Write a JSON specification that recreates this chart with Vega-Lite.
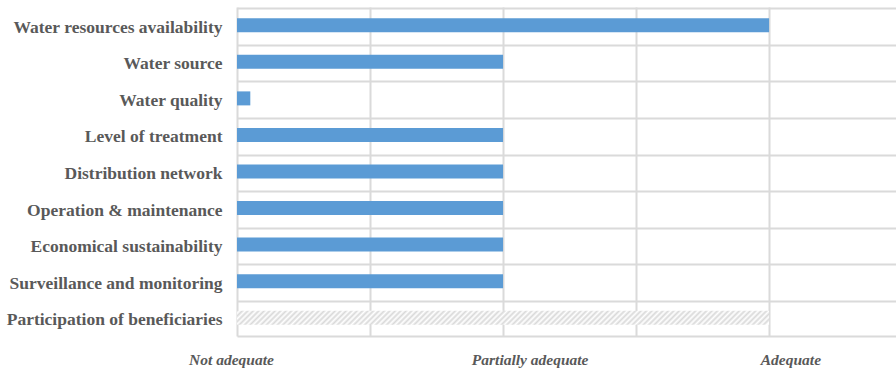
{
  "$schema": "https://vega.github.io/schema/vega-lite/v6.json",
  "width": 659,
  "height": 329,
  "autosize": "none",
  "padding": {"left": 237, "top": 7, "right": 0, "bottom": 36},
  "background": "white",
  "config": {"view": {"stroke": null}, "font": "Liberation Serif"},
  "data": {
    "values": [
      {"criterion": "Water resources availability", "level": 2},
      {"criterion": "Water source", "level": 1},
      {"criterion": "Water quality", "level": 0.05},
      {"criterion": "Level of treatment", "level": 1},
      {"criterion": "Distribution network", "level": 1},
      {"criterion": "Operation & maintenance", "level": 1},
      {"criterion": "Economical sustainability", "level": 1},
      {"criterion": "Surveillance and monitoring", "level": 1},
      {"criterion": "Participation of beneficiaries", "level": 2}
    ]
  },
  "encoding": {
    "y": {
      "field": "criterion",
      "type": "nominal",
      "sort": null,
      "title": null,
      "axis": {
        "grid": true,
        "bandPosition": 0,
        "gridColor": "#dadada",
        "gridWidth": 2,
        "domain": false,
        "ticks": false,
        "labelFont": "Liberation Serif",
        "labelFontWeight": "bold",
        "labelFontSize": 17.5,
        "labelColor": "#595959",
        "labelPadding": 15,
        "labelOffset": 2.5,
        "labelLimit": 400
      }
    }
  },
  "layer": [
    {
      "transform": [{"filter": "datum.criterion != 'Participation of beneficiaries'"}],
      "mark": {"type": "bar", "size": 14, "color": "#5b9bd5"},
      "encoding": {
        "x": {
          "field": "level",
          "type": "quantitative",
          "title": null,
          "scale": {"domain": [0, 2.477], "nice": false, "zero": true},
          "axis": {
            "orient": "top",
            "values": [0, 0.5, 1, 1.5, 2],
            "grid": true,
            "gridColor": "#dadada",
            "gridWidth": 2,
            "labels": false,
            "ticks": false,
            "domain": false
          }
        }
      }
    },
    {
      "transform": [{"filter": "datum.criterion == 'Participation of beneficiaries'"}],
      "mark": {
        "type": "bar",
        "size": 14,
        "fill": {
          "gradient": "linear",
          "x1": 0, "y1": 0, "x2": 1.0256, "y2": 0.027,
          "stops": [
            {"offset": 0, "color": "#d9d9d9"}, {"offset": 0.005, "color": "#ffffff"},
            {"offset": 0.01, "color": "#d9d9d9"}, {"offset": 0.015, "color": "#ffffff"},
            {"offset": 0.02, "color": "#d9d9d9"}, {"offset": 0.025, "color": "#ffffff"},
            {"offset": 0.03, "color": "#d9d9d9"}, {"offset": 0.035, "color": "#ffffff"},
            {"offset": 0.04, "color": "#d9d9d9"}, {"offset": 0.045, "color": "#ffffff"},
            {"offset": 0.05, "color": "#d9d9d9"}, {"offset": 0.055, "color": "#ffffff"},
            {"offset": 0.06, "color": "#d9d9d9"}, {"offset": 0.065, "color": "#ffffff"},
            {"offset": 0.07, "color": "#d9d9d9"}, {"offset": 0.075, "color": "#ffffff"},
            {"offset": 0.08, "color": "#d9d9d9"}, {"offset": 0.085, "color": "#ffffff"},
            {"offset": 0.09, "color": "#d9d9d9"}, {"offset": 0.095, "color": "#ffffff"},
            {"offset": 0.1, "color": "#d9d9d9"}, {"offset": 0.105, "color": "#ffffff"},
            {"offset": 0.11, "color": "#d9d9d9"}, {"offset": 0.115, "color": "#ffffff"},
            {"offset": 0.12, "color": "#d9d9d9"}, {"offset": 0.125, "color": "#ffffff"},
            {"offset": 0.13, "color": "#d9d9d9"}, {"offset": 0.135, "color": "#ffffff"},
            {"offset": 0.14, "color": "#d9d9d9"}, {"offset": 0.145, "color": "#ffffff"},
            {"offset": 0.15, "color": "#d9d9d9"}, {"offset": 0.155, "color": "#ffffff"},
            {"offset": 0.16, "color": "#d9d9d9"}, {"offset": 0.165, "color": "#ffffff"},
            {"offset": 0.17, "color": "#d9d9d9"}, {"offset": 0.175, "color": "#ffffff"},
            {"offset": 0.18, "color": "#d9d9d9"}, {"offset": 0.185, "color": "#ffffff"},
            {"offset": 0.19, "color": "#d9d9d9"}, {"offset": 0.195, "color": "#ffffff"},
            {"offset": 0.2, "color": "#d9d9d9"}, {"offset": 0.205, "color": "#ffffff"},
            {"offset": 0.21, "color": "#d9d9d9"}, {"offset": 0.215, "color": "#ffffff"},
            {"offset": 0.22, "color": "#d9d9d9"}, {"offset": 0.225, "color": "#ffffff"},
            {"offset": 0.23, "color": "#d9d9d9"}, {"offset": 0.235, "color": "#ffffff"},
            {"offset": 0.24, "color": "#d9d9d9"}, {"offset": 0.245, "color": "#ffffff"},
            {"offset": 0.25, "color": "#d9d9d9"}, {"offset": 0.255, "color": "#ffffff"},
            {"offset": 0.26, "color": "#d9d9d9"}, {"offset": 0.265, "color": "#ffffff"},
            {"offset": 0.27, "color": "#d9d9d9"}, {"offset": 0.275, "color": "#ffffff"},
            {"offset": 0.28, "color": "#d9d9d9"}, {"offset": 0.285, "color": "#ffffff"},
            {"offset": 0.29, "color": "#d9d9d9"}, {"offset": 0.295, "color": "#ffffff"},
            {"offset": 0.3, "color": "#d9d9d9"}, {"offset": 0.305, "color": "#ffffff"},
            {"offset": 0.31, "color": "#d9d9d9"}, {"offset": 0.315, "color": "#ffffff"},
            {"offset": 0.32, "color": "#d9d9d9"}, {"offset": 0.325, "color": "#ffffff"},
            {"offset": 0.33, "color": "#d9d9d9"}, {"offset": 0.335, "color": "#ffffff"},
            {"offset": 0.34, "color": "#d9d9d9"}, {"offset": 0.345, "color": "#ffffff"},
            {"offset": 0.35, "color": "#d9d9d9"}, {"offset": 0.355, "color": "#ffffff"},
            {"offset": 0.36, "color": "#d9d9d9"}, {"offset": 0.365, "color": "#ffffff"},
            {"offset": 0.37, "color": "#d9d9d9"}, {"offset": 0.375, "color": "#ffffff"},
            {"offset": 0.38, "color": "#d9d9d9"}, {"offset": 0.385, "color": "#ffffff"},
            {"offset": 0.39, "color": "#d9d9d9"}, {"offset": 0.395, "color": "#ffffff"},
            {"offset": 0.4, "color": "#d9d9d9"}, {"offset": 0.405, "color": "#ffffff"},
            {"offset": 0.41, "color": "#d9d9d9"}, {"offset": 0.415, "color": "#ffffff"},
            {"offset": 0.42, "color": "#d9d9d9"}, {"offset": 0.425, "color": "#ffffff"},
            {"offset": 0.43, "color": "#d9d9d9"}, {"offset": 0.435, "color": "#ffffff"},
            {"offset": 0.44, "color": "#d9d9d9"}, {"offset": 0.445, "color": "#ffffff"},
            {"offset": 0.45, "color": "#d9d9d9"}, {"offset": 0.455, "color": "#ffffff"},
            {"offset": 0.46, "color": "#d9d9d9"}, {"offset": 0.465, "color": "#ffffff"},
            {"offset": 0.47, "color": "#d9d9d9"}, {"offset": 0.475, "color": "#ffffff"},
            {"offset": 0.48, "color": "#d9d9d9"}, {"offset": 0.485, "color": "#ffffff"},
            {"offset": 0.49, "color": "#d9d9d9"}, {"offset": 0.495, "color": "#ffffff"},
            {"offset": 0.5, "color": "#d9d9d9"}, {"offset": 0.505, "color": "#ffffff"},
            {"offset": 0.51, "color": "#d9d9d9"}, {"offset": 0.515, "color": "#ffffff"},
            {"offset": 0.52, "color": "#d9d9d9"}, {"offset": 0.525, "color": "#ffffff"},
            {"offset": 0.53, "color": "#d9d9d9"}, {"offset": 0.535, "color": "#ffffff"},
            {"offset": 0.54, "color": "#d9d9d9"}, {"offset": 0.545, "color": "#ffffff"},
            {"offset": 0.55, "color": "#d9d9d9"}, {"offset": 0.555, "color": "#ffffff"},
            {"offset": 0.56, "color": "#d9d9d9"}, {"offset": 0.565, "color": "#ffffff"},
            {"offset": 0.57, "color": "#d9d9d9"}, {"offset": 0.575, "color": "#ffffff"},
            {"offset": 0.58, "color": "#d9d9d9"}, {"offset": 0.585, "color": "#ffffff"},
            {"offset": 0.59, "color": "#d9d9d9"}, {"offset": 0.595, "color": "#ffffff"},
            {"offset": 0.6, "color": "#d9d9d9"}, {"offset": 0.605, "color": "#ffffff"},
            {"offset": 0.61, "color": "#d9d9d9"}, {"offset": 0.615, "color": "#ffffff"},
            {"offset": 0.62, "color": "#d9d9d9"}, {"offset": 0.625, "color": "#ffffff"},
            {"offset": 0.63, "color": "#d9d9d9"}, {"offset": 0.635, "color": "#ffffff"},
            {"offset": 0.64, "color": "#d9d9d9"}, {"offset": 0.645, "color": "#ffffff"},
            {"offset": 0.65, "color": "#d9d9d9"}, {"offset": 0.655, "color": "#ffffff"},
            {"offset": 0.66, "color": "#d9d9d9"}, {"offset": 0.665, "color": "#ffffff"},
            {"offset": 0.67, "color": "#d9d9d9"}, {"offset": 0.675, "color": "#ffffff"},
            {"offset": 0.68, "color": "#d9d9d9"}, {"offset": 0.685, "color": "#ffffff"},
            {"offset": 0.69, "color": "#d9d9d9"}, {"offset": 0.695, "color": "#ffffff"},
            {"offset": 0.7, "color": "#d9d9d9"}, {"offset": 0.705, "color": "#ffffff"},
            {"offset": 0.71, "color": "#d9d9d9"}, {"offset": 0.715, "color": "#ffffff"},
            {"offset": 0.72, "color": "#d9d9d9"}, {"offset": 0.725, "color": "#ffffff"},
            {"offset": 0.73, "color": "#d9d9d9"}, {"offset": 0.735, "color": "#ffffff"},
            {"offset": 0.74, "color": "#d9d9d9"}, {"offset": 0.745, "color": "#ffffff"},
            {"offset": 0.75, "color": "#d9d9d9"}, {"offset": 0.755, "color": "#ffffff"},
            {"offset": 0.76, "color": "#d9d9d9"}, {"offset": 0.765, "color": "#ffffff"},
            {"offset": 0.77, "color": "#d9d9d9"}, {"offset": 0.775, "color": "#ffffff"},
            {"offset": 0.78, "color": "#d9d9d9"}, {"offset": 0.785, "color": "#ffffff"},
            {"offset": 0.79, "color": "#d9d9d9"}, {"offset": 0.795, "color": "#ffffff"},
            {"offset": 0.8, "color": "#d9d9d9"}, {"offset": 0.805, "color": "#ffffff"},
            {"offset": 0.81, "color": "#d9d9d9"}, {"offset": 0.815, "color": "#ffffff"},
            {"offset": 0.82, "color": "#d9d9d9"}, {"offset": 0.825, "color": "#ffffff"},
            {"offset": 0.83, "color": "#d9d9d9"}, {"offset": 0.835, "color": "#ffffff"},
            {"offset": 0.84, "color": "#d9d9d9"}, {"offset": 0.845, "color": "#ffffff"},
            {"offset": 0.85, "color": "#d9d9d9"}, {"offset": 0.855, "color": "#ffffff"},
            {"offset": 0.86, "color": "#d9d9d9"}, {"offset": 0.865, "color": "#ffffff"},
            {"offset": 0.87, "color": "#d9d9d9"}, {"offset": 0.875, "color": "#ffffff"},
            {"offset": 0.88, "color": "#d9d9d9"}, {"offset": 0.885, "color": "#ffffff"},
            {"offset": 0.89, "color": "#d9d9d9"}, {"offset": 0.895, "color": "#ffffff"},
            {"offset": 0.9, "color": "#d9d9d9"}, {"offset": 0.905, "color": "#ffffff"},
            {"offset": 0.91, "color": "#d9d9d9"}, {"offset": 0.915, "color": "#ffffff"},
            {"offset": 0.92, "color": "#d9d9d9"}, {"offset": 0.925, "color": "#ffffff"},
            {"offset": 0.93, "color": "#d9d9d9"}, {"offset": 0.935, "color": "#ffffff"},
            {"offset": 0.94, "color": "#d9d9d9"}, {"offset": 0.945, "color": "#ffffff"},
            {"offset": 0.95, "color": "#d9d9d9"}, {"offset": 0.955, "color": "#ffffff"},
            {"offset": 0.96, "color": "#d9d9d9"}, {"offset": 0.965, "color": "#ffffff"},
            {"offset": 0.97, "color": "#d9d9d9"}, {"offset": 0.975, "color": "#ffffff"},
            {"offset": 0.98, "color": "#d9d9d9"}, {"offset": 0.985, "color": "#ffffff"},
            {"offset": 0.99, "color": "#d9d9d9"}, {"offset": 0.995, "color": "#ffffff"},
            {"offset": 1, "color": "#ffffff"}
          ]
        }
      },
      "encoding": {
        "x": {
          "field": "level",
          "type": "quantitative",
          "title": null,
          "axis": {
            "orient": "bottom",
            "values": [0, 1.1, 2.08],
            "labelExpr": "datum.value < 0.5 ? 'Not adequate' : datum.value < 1.5 ? 'Partially adequate' : 'Adequate'",
            "labelOffset": {"condition": {"test": "datum.value < 0.5", "value": -6}, "value": 0},
            "grid": false,
            "ticks": false,
            "domain": true,
            "domainColor": "#dadada",
            "domainWidth": 2,
            "labelFont": "Liberation Serif",
            "labelFontStyle": "italic",
            "labelFontWeight": "bold",
            "labelFontSize": 15.5,
            "labelColor": "#595959",
            "labelPadding": 16,
            "labelFlush": false,
            "labelOverlap": false
          }
        }
      }
    }
  ],
  "resolve": {"axis": {"x": "independent"}}
}
